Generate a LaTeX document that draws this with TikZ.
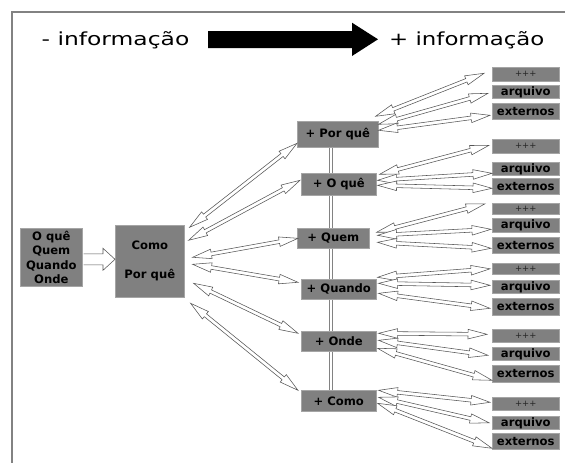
\documentclass[tikz,border=0pt]{standalone}
\usepackage{fontspec}
\setmainfont{DejaVu Sans}
\usetikzlibrary{calc,backgrounds}
\definecolor{boxgray}{RGB}{128,128,128}
\definecolor{boxedge}{RGB}{165,165,165}
\definecolor{framegray}{RGB}{130,130,130}
\definecolor{arrline}{RGB}{85,85,85}
\newcommand\bahl{19pt}
\newcommand\bahw{4.8pt}
\newcommand\basw{1.8pt}
\newcommand\blockarr[2]{%
  \coordinate (bA) at (#1);
  \coordinate (bB) at (#2);
  \coordinate (bA1) at ($(bA)!\bahl!(bB)$);
  \coordinate (bB1) at ($(bB)!\bahl!(bA)$);
  \draw[barrow] (bA) -- ($(bA1)!\bahw!90:(bB)$) -- ($(bA1)!\basw!90:(bB)$)
    -- ($(bB1)!\basw!-90:(bA)$) -- ($(bB1)!\bahw!-90:(bA)$) -- (bB)
    -- ($(bB1)!\bahw!90:(bA)$) -- ($(bB1)!\basw!90:(bA)$)
    -- ($(bA1)!\basw!-90:(bB)$) -- ($(bA1)!\bahw!-90:(bB)$) -- cycle;}
\newcommand\ppp{{\fontsize{8.5}{10}\selectfont\mdseries\color{black!85}+++}}
\begin{document}
\begin{tikzpicture}[x=1pt,y=-1pt,
  box/.style={fill=boxgray, draw=boxedge, line width=0.6pt, inner sep=0pt,
    anchor=north west, align=center, text=black, font=\fontsize{11.6}{14.5}\selectfont\bfseries},
  rbox/.style={box, minimum width=67pt},
  barrow/.style={draw=arrline, line width=0.55pt, fill=white, line join=miter},
  title/.style={anchor=base west, inner sep=0pt, font=\fontsize{18}{20}\selectfont}]
\useasboundingbox (0,0) rectangle (565,463);
% frame
\draw[framegray, line width=2pt] (565,12) -- (12,12) -- (12,463);
% titles
\node[title] (tl) at (41.5,45) {\scalebox{1.3}[1]{- informação}};
\node[title] (tr) at (389,45) {\scalebox{1.27}[1]{+ informação}};
\fill[black] (208,31) -- (352,31) -- (352,22.7) -- (378,39.3) -- (352,56) -- (352,48) -- (208,48) -- cycle;
% left boxes
\node[box, minimum width=62pt, minimum height=58pt] (lb) at (20,228) {O quê\\Quem\\Quando\\Onde};
\node[box, minimum width=69pt, minimum height=72pt] (como) at (115,225) {Como\\[14.5pt]Por quê};
% middle boxes
\node[box, minimum width=81pt, minimum height=26pt] (pq) at (297,121) {+ Por quê};
\node[box, minimum width=75pt, minimum height=22pt] (poq) at (301,173) {+ O quê};
\node[box, minimum width=72pt, minimum height=20pt] (pqm) at (297,228) {+ Quem};
\node[box, minimum width=75pt, minimum height=20pt] (pqd) at (301,279) {+ Quando};
\node[box, minimum width=75pt, minimum height=20pt] (pon) at (301,331) {+ Onde};
\node[box, minimum width=75pt, minimum height=21pt] (pco) at (301,390) {+ Como};
% right boxes
\node[rbox, minimum height=14pt] (r1a) at (492,67) {\ppp};
\node[rbox, minimum height=13pt] (r1b) at (492,85) {arquivo};
\node[rbox, minimum height=16pt] (r1c) at (492,103) {externos};
\node[rbox, minimum height=14pt] (r2a) at (492,139) {\ppp};
\node[rbox, minimum height=13pt] (r2b) at (492,162) {arquivo};
\node[rbox, minimum height=16pt] (r2c) at (492,178) {externos};
\node[rbox, minimum height=11pt] (r3a) at (492,203) {\ppp};
\node[rbox, minimum height=14pt] (r3b) at (492,218) {arquivo};
\node[rbox, minimum height=16pt] (r3c) at (492,237) {externos};
\node[rbox, minimum height=11pt] (r4a) at (492,263) {\ppp};
\node[rbox, minimum height=13pt] (r4b) at (492,280) {arquivo};
\node[rbox, minimum height=17pt] (r4c) at (492,298) {externos};
\node[rbox, minimum height=13pt] (r5a) at (492,329) {\ppp};
\node[rbox, minimum height=13pt] (r5b) at (492,347) {arquivo};
\node[rbox, minimum height=17pt] (r5c) at (492,365) {externos};
\node[rbox, minimum height=13pt] (r6a) at (492,397) {\ppp};
\node[rbox, minimum height=13pt] (r6b) at (492,416) {arquivo};
\node[rbox, minimum height=16pt] (r6c) at (492,433) {externos};
% vertical double line, behind the boxes
\begin{scope}[on background layer]
\draw[framegray, line width=0.8pt, double=white, double distance=2.6pt]
  ($(pq.south west)+(34,0)$) -- ($(pco.north west)+(30,0)$);
\end{scope}
% left box -> Como
\coordinate (hA) at ($(lb.east)+(1,2)$);
\coordinate (hT) at ($(como.west)+(0,-2)$);
\draw[barrow] ($(hA)+(0,-5.5)$) -- ($(hT)+(-12,-5.5)$) -- ($(hT)+(-12,-11)$) -- (hT)
  -- ($(hT)+(-12,11)$) -- ($(hT)+(-12,5.5)$) -- ($(hA)+(0,5.5)$);
% Como -> middle
\blockarr{$(como.east)+(5,-34)$}{$(pq.west)+(0,9)$}
\blockarr{$(como.east)+(4,-21)$}{$(poq.west)+(-1,-4)$}
\blockarr{$(como.east)+(8,-4)$}{$(pqm.west)+(1,0)$}
\blockarr{$(como.east)+(8,3)$}{$(pqd.west)+(-3,-7)$}
\blockarr{$(como.east)+(9,22)$}{$(pon.west)+(-3,-8)$}
\blockarr{$(como.east)+(6,42)$}{$(pco.west)+(-3,-10.5)$}
% middle -> right
\blockarr{$(pq.east)+(-3,-18)$}{$(r1a.west)+(-8,-1)$}
\blockarr{$(pq.east)+(0,-10)$}{$(r1b.west)+(-4,1.5)$}
\blockarr{$(pq.east)+(0,-4)$}{$(r1c.west)+(-2,4)$}
\blockarr{$(poq.east)+(3,-10)$}{$(r2a.west)+(-3,-1)$}
\blockarr{$(poq.east)+(1,-4)$}{$(r2b.west)+(0,4.5)$}
\blockarr{$(poq.east)+(1,1)$}{$(r2c.west)+(0,2)$}
\blockarr{$(pqm.east)+(7,-6)$}{$(r3a.west)+(-7,-5)$}
\blockarr{$(pqm.east)+(8,-3)$}{$(r3b.west)+(-1,4)$}
\blockarr{$(pqm.east)+(8,4)$}{$(r3c.west)+(-1,3)$}
\blockarr{$(pqd.east)+(1,-12)$}{$(r4a.west)+(-2,0)$}
\blockarr{$(pqd.east)+(2,-6)$}{$(r4b.west)+(-2,-1.5)$}
\blockarr{$(pqd.east)+(2,4)$}{$(r4c.west)+(-2,1.5)$}
\blockarr{$(pon.east)+(2,-8)$}{$(r5a.west)+(-5,-1.5)$}
\blockarr{$(pon.east)+(2,-1)$}{$(r5b.west)+(-4,1.5)$}
\blockarr{$(pon.east)+(1,7)$}{$(r5c.west)+(0,6.5)$}
\blockarr{$(pco.east)+(2,-10.5)$}{$(r6a.west)+(-2,-1.5)$}
\blockarr{$(pco.east)+(2,-3.5)$}{$(r6b.west)+(-3,0)$}
\blockarr{$(pco.east)+(1,2.5)$}{$(r6c.west)+(0,7)$}
\end{tikzpicture}
\end{document}
